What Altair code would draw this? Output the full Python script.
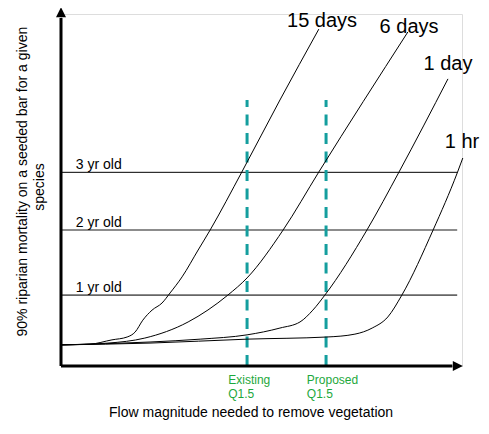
import altair as alt
import pandas as pd

# ---- data (conceptual units: x 0-100 flow magnitude, y 0-100 mortality) ----
curve_names = ["15 days", "6 days", "1 day", "1 hr"]
x_15d = [0, 7.2, 12.7, 16.5, 18.5, 20.4, 22.7, 25.2, 27.2, 30.2, 34.2, 37.2, 45.1, 54.6, 64.3]
y_15d = [5.9, 6.1, 7.3, 8.1, 9.5, 12.8, 15.6, 17.6, 20.4, 24.9, 32.4, 38.0, 54.2, 74.3, 94.1]
x_6d = [0, 11.7, 20.9, 31.7, 41.6, 46.4, 55.4, 64.3, 86.5]
y_6d = [5.9, 6.4, 7.8, 12.3, 19.8, 24.6, 38.0, 54.2, 93.3]
x_1d = [0, 22.2, 34.7, 46.4, 54.6, 59.6, 62.8, 65.8, 76.3, 84.3, 96.5]
y_1d = [5.9, 6.7, 7.5, 8.7, 10.6, 12.3, 15.6, 19.8, 38.0, 54.2, 80.2]
x_1h = [0, 22.2, 46.4, 66.3, 73.3, 77.6, 81.5, 85.0, 92.8, 98.8, 100.2]
y_1h = [5.9, 6.4, 7.5, 8.1, 8.9, 10.6, 13.7, 19.8, 38.0, 53.9, 58.1]

label_x = [65.1, 86.8, 96.5, 100.0]
label_y = [94.8, 93.1, 82.8, 60.9]

age_names = ["3 yr old", "2 yr old", "1 yr old"]
age_y = [54.1, 38.0, 19.8]
age_end = [98.8, 98.8, 98.8]
age_label_x = [3.7, 3.7, 3.7]
age_label_y = [55.0, 38.9, 20.7]
age_color = ["#000000", "#666666", "#666666"]
age_width = [1.0, 1.6, 1.6]

q_names = ["Existing", "Proposed"]
q_x = [46.4, 66.1]
q_top = [74.3, 74.3]
q_label_x = [41.7, 61.3]

x_title = "Flow magnitude needed to remove vegetation"
y_title = ["90% riparian mortality on a seeded bar for a given", "species"]

# ---- tables ----
rows = []
for name, xs, ys in zip(curve_names, [x_15d, x_6d, x_1d, x_1h], [y_15d, y_6d, y_1d, y_1h]):
    for i, (a, b) in enumerate(zip(xs, ys)):
        rows.append({"curve": name, "x": a, "y": b, "i": i})
curves = pd.DataFrame(rows)
labels = pd.DataFrame({"t": curve_names, "x": label_x, "y": label_y})
ages = pd.DataFrame({"t": age_names, "y": age_y, "x2": age_end, "lx": age_label_x,
                     "ly": age_label_y, "c": age_color, "w": age_width})
qs = pd.DataFrame({"t": q_names, "x": q_x, "top": q_top, "lx": q_label_x})
q_lab = pd.DataFrame({"t": ["Existing", "Q1.5", "Proposed", "Q1.5"],
                      "x": [q_label_x[0], q_label_x[0], q_label_x[1], q_label_x[1]],
                      "y": [-5.0, -8.85, -5.0, -8.85]})
axes_df = pd.DataFrame({"x": [0, 0], "y": [0, 0], "x2": [97.6, 0], "y2": [0, 97.2]})
arrows = pd.DataFrame({"x": [100.2, 0], "y": [0, 100.2], "dir": ["r", "u"]})
xt = pd.DataFrame({"t": [x_title], "x": [47.4], "y": [-14.2]})
yt = pd.DataFrame({"t": y_title, "x": [-9.6, -5.24], "y": [51.5, 50.0]})

PLOT_H = 352
X = alt.Scale(domain=[0, 100], nice=False, zero=False)
Y = alt.Scale(domain=[0, 100 * PLOT_H / 358], nice=False, zero=False)
FONT = "Liberation Sans"

def xe(f="x"):
    return alt.X(f + ":Q", scale=X, axis=None)

def ye(f="y"):
    return alt.Y(f + ":Q", scale=Y, axis=None)

curve_layer = alt.Chart(curves).mark_line(interpolate="monotone", color="black", strokeWidth=1).encode(
    x=xe(), y=ye(), detail="curve:N", order="i:Q")

age_rules = alt.Chart(ages).mark_rule().encode(
    x=alt.X("zero:Q", scale=X, axis=None), x2="x2:Q", y=ye(),
    color=alt.Color("c:N", scale=None), strokeWidth=alt.StrokeWidth("w:Q", scale=None)
).transform_calculate(zero="0")

age_text = alt.Chart(ages).mark_text(align="left", baseline="alphabetic", fontSize=14, font=FONT, color="black").encode(
    x=xe("lx"), y=ye("ly"), text="t:N")

q_rules = alt.Chart(qs).mark_rule(color="#149e9e", strokeWidth=3, strokeDash=[11, 7.5]).encode(
    x=xe(), y=alt.Y("zero:Q", scale=Y, axis=None), y2="top:Q"
).transform_calculate(zero="0")

q_text = alt.Chart(q_lab).mark_text(align="left", baseline="alphabetic", fontSize=12, font=FONT, color="#1da83c").encode(
    x=xe(), y=ye(), text="t:N")

label_text = alt.Chart(labels).mark_text(align="center", baseline="alphabetic", fontSize=20, font=FONT, color="black").encode(
    x=xe(), y=ye(), text="t:N")

axis_lines = alt.Chart(axes_df).mark_rule(color="black", strokeWidth=3).encode(
    x=xe(), y=ye(), x2="x2:Q", y2="y2:Q")

arrow_r = alt.Chart(arrows[arrows.dir == "r"]).mark_point(
    shape="M0,0L-2,-1L-2,1Z", filled=True, size=100, color="black", opacity=1, strokeWidth=0).encode(x=xe(), y=ye())
arrow_u = alt.Chart(arrows[arrows.dir == "u"]).mark_point(
    shape="M0,0L-1,2L1,2Z", filled=True, size=100, color="black", opacity=1, strokeWidth=0).encode(x=xe(), y=ye())

xt_layer = alt.Chart(xt).mark_text(align="center", baseline="alphabetic", fontSize=14, font=FONT, color="black").encode(
    x=xe(), y=ye(), text="t:N")
yt_layer = alt.Chart(yt).mark_text(align="center", baseline="middle", angle=270, fontSize=14, font=FONT, color="black").encode(
    x=xe(), y=ye(), text="t:N")

chart = alt.layer(
    age_rules, q_rules, curve_layer, axis_lines, arrow_r, arrow_u,
    age_text, q_text, label_text, xt_layer, yt_layer
).properties(
    width=401, height=PLOT_H,
    autosize=alt.AutoSizeParams(type="none"),
    padding={"left": 53, "top": 358 - PLOT_H, "right": 19, "bottom": 56},
).configure_view(stroke=None).configure(background="white")

chart.save("out.html", embed_options={"renderer": "svg", "actions": False})
